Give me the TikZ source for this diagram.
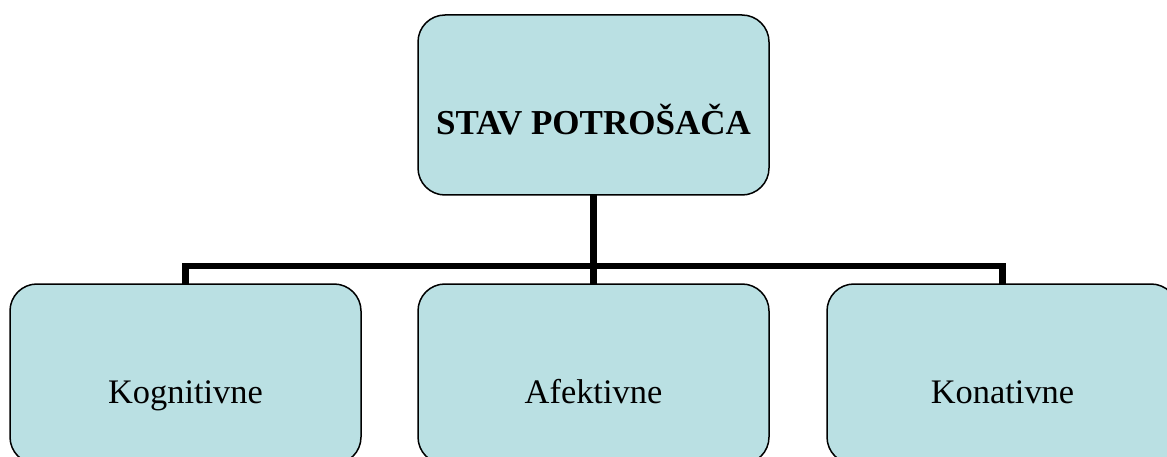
\documentclass[tikz,border=0pt]{standalone}
\usepackage{fontspec}
\setmainfont{Liberation Serif}
\definecolor{boxfill}{RGB}{186,224,227}
\begin{document}
\begin{tikzpicture}[x=1pt,y=-1pt,
  box/.style={draw=black,line width=1.5pt,fill=boxfill,rounded corners=27pt,
    minimum width=351pt,minimum height=180pt,inner sep=0pt,outer sep=0pt},
  conn/.style={draw=black,line width=6.3pt,line join=miter},
  title/.style={font=\fontsize{35}{40}\selectfont\bfseries,anchor=base,inner sep=0pt},
  lbl/.style={font=\fontsize{34.4}{40}\selectfont,anchor=base,inner sep=0pt}]
\useasboundingbox (0,0) rectangle (1167,457);
\clip (0,0) rectangle (1167,457);
\node[box] (top) at (593.5,105) {};
\node[box] (left) at (185.5,374) {};
\node[box] (mid) at (593.5,374) {};
\node[box] (right) at (1002.5,374) {};
\coordinate (bus) at (593.5,266);
\draw[conn] (top.south) -- (mid.north);
\draw[conn] (left.north) |- (bus) -| (right.north);
\node[title] (ttop) at (593.5,135) {STAV POTROŠAČA};
\node[lbl] (tleft) at (185.5,403) {Kognitivne};
\node[lbl] (tmid) at (593.5,403) {Afektivne};
\node[lbl] (tright) at (1002.5,403) {Konativne};
\end{tikzpicture}
\end{document}
